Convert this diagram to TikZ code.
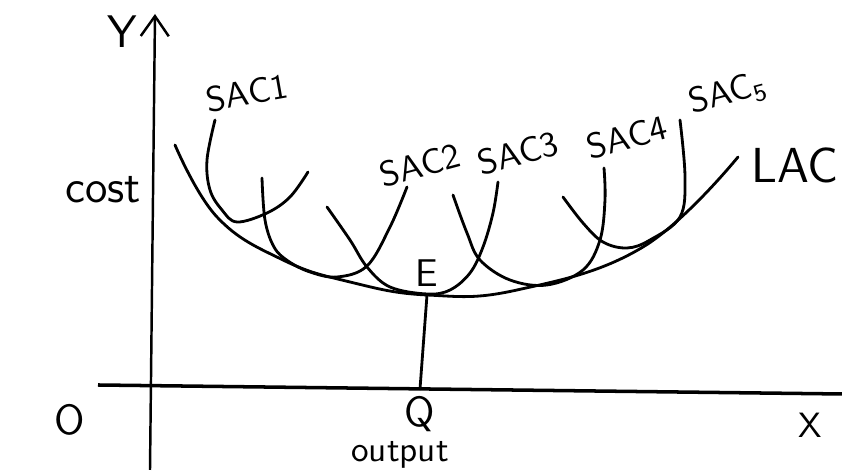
\documentclass[tikz,border=0pt]{standalone}
\usepackage{tikz}
\usetikzlibrary{arrows.meta}
\begin{document}
\begin{tikzpicture}[every node/.style={font=\sffamily}, >={Straight Barb[length=2mm, width=2.8mm]}, curve/.style={line width=0.8pt, line cap=round}, sac/.style={font=\sffamily\fontsize{10}{12}\selectfont, rotate=15}]
	\useasboundingbox (0,0) rectangle (8.42,4.74);
	\draw[->, line width=0.7pt] (1.50,0.04) -- (1.55,4.60);
	\draw[line width=1pt] (0.98,0.89) -- (8.42,0.80);
	\draw[curve] plot[smooth, tension=0.7] coordinates {(1.75,3.29) (2.17,2.57) (2.83,2.14) (3.50,1.92) (4.27,1.79) (5.17,1.84) (6.43,2.27) (7.38,3.17)};
	\draw[curve] plot[smooth, tension=0.6] coordinates {(2.15,3.54) (2.07,3.14) (2.10,2.84) (2.22,2.64) (2.37,2.52) (2.67,2.61) (2.90,2.77) (3.08,3.02)};
	\draw[curve] plot[smooth, tension=0.6] coordinates {(2.62,2.96) (2.65,2.54) (2.74,2.27) (2.88,2.13) (3.10,2.02) (3.37,1.97) (3.67,2.08) (3.90,2.47) (4.07,2.87)};
	\draw[curve] plot[smooth, tension=0.6] coordinates {(3.27,2.67) (3.50,2.34) (3.67,2.07) (3.90,1.87) (4.27,1.80) (4.50,1.84) (4.70,2.01) (4.83,2.27) (4.93,2.61) (4.98,2.92)};
	\draw[curve] plot[smooth, tension=0.6] coordinates {(4.53,2.79) (4.67,2.41) (4.80,2.14) (5.10,1.94) (5.47,1.89) (5.83,2.04) (6.00,2.34) (6.05,2.74) (6.04,3.06)};
	\draw[curve] plot[smooth, tension=0.6] coordinates {(5.63,2.77) (5.83,2.51) (6.03,2.32) (6.27,2.26) (6.50,2.34) (6.80,2.57) (6.85,2.97) (6.80,3.54)};
	\coordinate (E) at (4.27,1.79);
	\coordinate (Q) at (4.20,0.85);
	\draw[curve] (E) -- (Q);
	\node[font=\sffamily\fontsize{13}{15}\selectfont] (ylabel) at (1.22,4.42) {Y};
	\node[font=\sffamily\fontsize{13}{15}\selectfont] (cost) at (1.03,2.84) {cost};
	\node[font=\sffamily\fontsize{12}{14}\selectfont] (origin) at (0.70,0.54) {O};
	\node[font=\sffamily\fontsize{12}{14}\selectfont] (qlabel) at (4.20,0.60) {Q};
	\node[font=\sffamily\fontsize{10}{12}\selectfont] (xlabel) at (8.10,0.49) {X};
	\node[font=\sffamily\fontsize{10}{12}\selectfont] (output) at (4.00,0.19) {output};
	\node[font=\sffamily\fontsize{11}{13}\selectfont] (elabel) at (4.27,2.01) {E};
	\node[font=\sffamily\fontsize{14}{16}\selectfont] (lac) at (7.95,3.09) {LAC};
	\node[sac, rotate=-5] (sac1) at (2.47,3.81) {SAC1};
	\node[sac] (sac2) at (4.20,3.09) {SAC2};
	\node[sac] (sac3) at (5.18,3.21) {SAC3};
	\node[sac] (sac4) at (6.27,3.37) {SAC4};
	\node[sac] (sac5) at (7.28,3.80) {SAC\textsubscript{5}};
\end{tikzpicture}
\end{document}
